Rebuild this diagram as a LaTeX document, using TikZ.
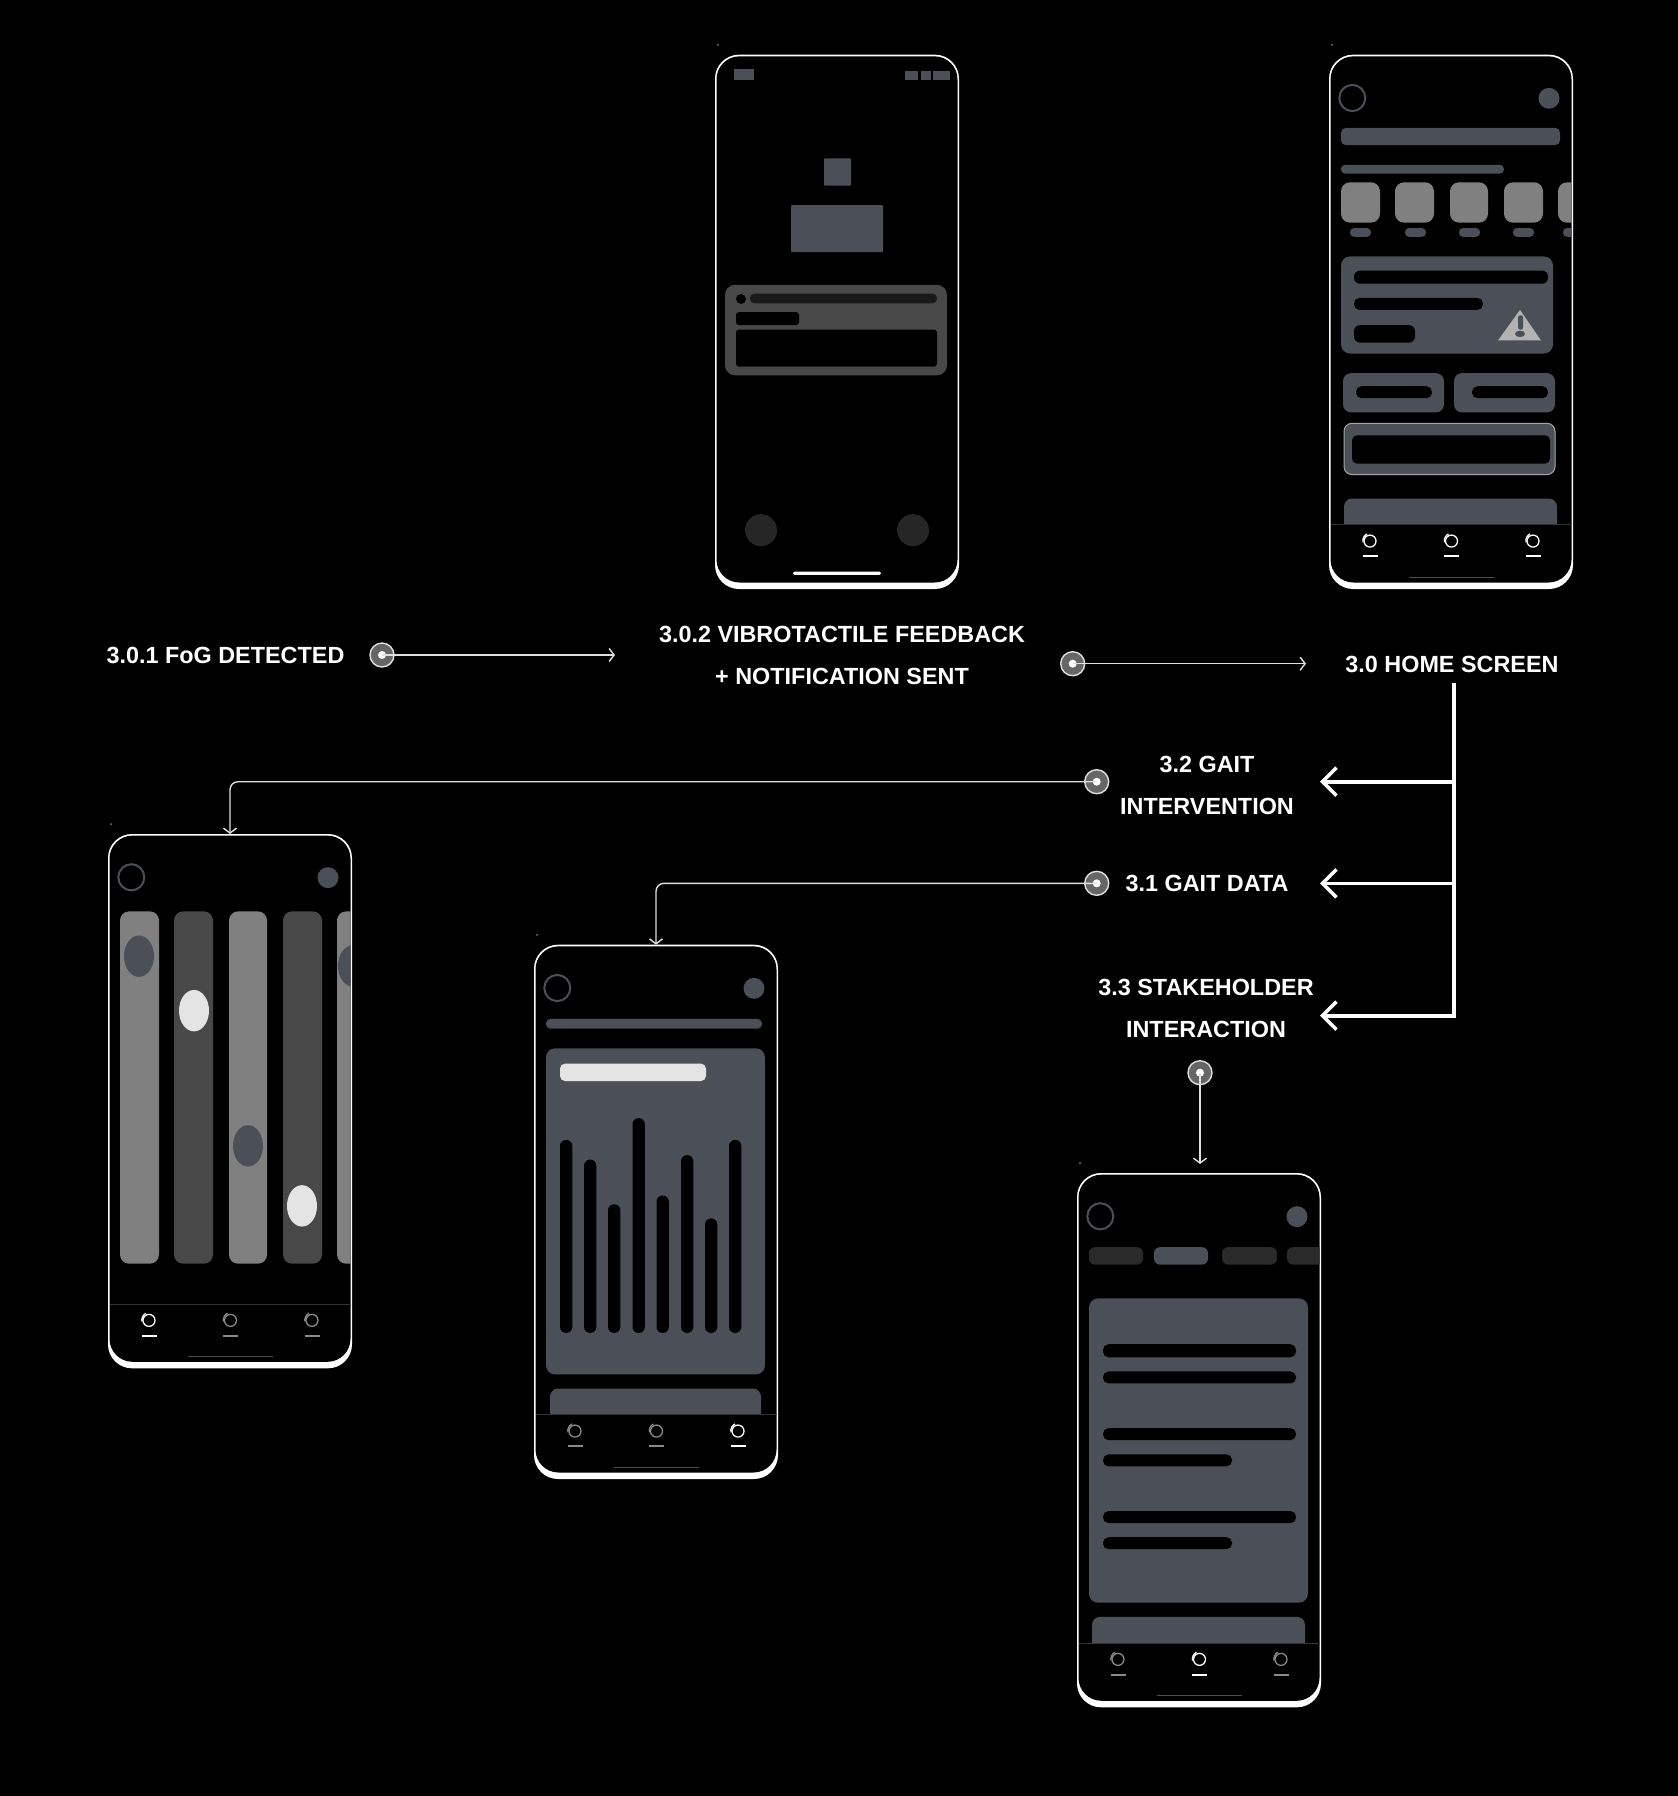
\documentclass[tikz,border=0pt]{standalone}
\usepackage{fontspec}
\setmainfont{Liberation Sans}
\usetikzlibrary{arrows.meta}
\definecolor{uigray}{HTML}{4B5058}
\definecolor{uimid}{HTML}{808080}
\definecolor{uidark}{HTML}{484848}
\definecolor{uidim}{HTML}{2A2A2A}
\definecolor{uilight}{HTML}{E4E4E4}
\definecolor{navoff}{HTML}{8A8A8A}
\definecolor{linkgray}{HTML}{E0E0E0}
\newlength{\pxunit}
\setlength{\pxunit}{0.01cm}
\tikzset{
  phone/.style={rectangle,fill=white,draw=none,inner sep=0pt,outer sep=0pt,anchor=north west,minimum width=244\pxunit,minimum height=534.3\pxunit,rounded corners=24\pxunit},
  screen/.style={yscale=1.0905},
  lbl/.style={text=white,font=\bfseries\fontsize{6.65}{11.8}\selectfont,align=center,inner sep=0pt},
  dotmark/.style={circle,fill=white!40!black,draw=linkgray,line width=1.4\pxunit,minimum size=24\pxunit,inner sep=0pt},
  thinlink/.style={draw=linkgray,line width=1.4\pxunit,-{Straight Barb[length=1.42pt,width=3.7pt,line width=0.4pt]},rounded corners=8\pxunit},
  thicklink/.style={draw=white,line width=3.6\pxunit,-{Straight Barb[length=3.98pt,width=7.97pt,line width=1pt]}},
}
% outer body, black face, small mark above the corner
\newcommand{\phoneframe}[1]{
  \node[phone] (#1) at (0,0) {};
  \fill[black,rounded corners=23\pxunit] (1.5,1.5) rectangle (242.5,484);
  \fill[uimid] (3,-9) circle (1);
}
% top row, nav bar and home line of the app screens
\newcommand{\apptop}{
  \draw[uigray,line width=2\pxunit] (23.3,39.7) ellipse (13 and 12);
  \fill[uigray] (220,40) ellipse (10.5 and 9.6);
}
\newcommand{\navrow}[3]{
  \draw[white!20!black,line width=0.7\pxunit] (1.5,431) -- (242.5,431);
  \foreach \x/\c in {41/#1,122.5/#2,204/#3} {
    \draw[\c,line width=1.3\pxunit] (\x,446) ellipse (6 and 5.5);
    \draw[\c,line width=1.3\pxunit] (\x,446) ++(-115:7.2) arc (-115:-190:7.2);
    \draw[\c,line width=2\pxunit] (\x-7.5,460) -- (\x+7.5,460);
  }
  \draw[white!30!black,line width=1\pxunit] (80,479) -- (165,479);
}
\begin{document}
\begin{tikzpicture}[x=1\pxunit,y=-1\pxunit]
\fill[black] (0,0) rectangle (1678,1796);
\useasboundingbox (0,0) rectangle (1678,1796);
% notification screen
\begin{scope}[shift={(715,54.7)},screen]
\phoneframe{phonenotify}
\fill[uigray] (19,13) rectangle (39,23);
\foreach \a/\b in {190/203,206/216,218/235} {
  \fill[uigray] (\a,15) rectangle (\b,23);
}
\fill[uigray,rounded corners=1\pxunit] (109,95) rectangle (136,120);
\fill[uigray,rounded corners=1\pxunit] (76,138) rectangle (168,181);
\fill[uidark,rounded corners=10\pxunit] (10,211) rectangle (232,294);
\fill[black] (26,224) ellipse (5 and 4.6);
\fill[black!90!white,rounded corners=4.5\pxunit] (35,219) rectangle (222,228);
\fill[black,rounded corners=3\pxunit] (21,236) rectangle (84,248);
\fill[black,rounded corners=3\pxunit] (21,252) rectangle (222,286);
\foreach \x in {46,198} {
  \fill[black!85!white] (\x,436) ellipse (16 and 14.7);
}
\fill[white,rounded corners=1.5\pxunit] (78,474) rectangle (166,477);
\end{scope}
% home screen
\begin{scope}[shift={(1329,54.7)},screen]
\phoneframe{phonehome}
\apptop
\begin{scope}
\clip (1.5,1.5) rectangle (242.5,431);
\fill[uigray,rounded corners=5\pxunit] (12,67) rectangle (231,83);
\fill[uigray,rounded corners=4\pxunit] (12,101) rectangle (175,109);
\foreach \a/\b/\c/\d in {12/51/21/42,66/105/76/97,121/159/130/151,175/214/184/205,229/268/234/255} {
  \fill[uimid,rounded corners=9\pxunit] (\a,117) rectangle (\b,154);
  \fill[uigray,rounded corners=4\pxunit] (\c,159) rectangle (\d,167);
}
\fill[uigray,rounded corners=9\pxunit] (12,185) rectangle (224,274);
\fill[black,rounded corners=6\pxunit] (25,198) rectangle (219,210);
\fill[black,rounded corners=5.5\pxunit] (25,223) rectangle (154,234);
\fill[black,rounded corners=6\pxunit] (25,248) rectangle (86,264);
\fill[white!70!black] (191,234) -- (212,262) -- (169,262) -- cycle;
\fill[uigray,rounded corners=2\pxunit] (189,239) rectangle (194,252);
\fill[uigray] (191,256) ellipse (5 and 3);
\foreach \a/\b/\c/\d in {14/115/27/103,125/226/143/219} {
  \fill[uigray,rounded corners=8\pxunit] (\a,292) rectangle (\b,328);
  \fill[black,rounded corners=5.5\pxunit] (\c,304) rectangle (\d,315);
}
\filldraw[fill=uigray,draw=white!65!black,line width=1\pxunit,rounded corners=8\pxunit] (15,338) rectangle (226,385);
\fill[black,rounded corners=5\pxunit] (23,349) rectangle (221,375);
\fill[uigray,rounded corners=8\pxunit] (15,407) rectangle (228,450);
\end{scope}
\navrow{white}{white}{white}
\end{scope}
% intervention screen
\begin{scope}[shift={(108,834)},screen]
\phoneframe{phonegaitint}
\apptop
\begin{scope}
\clip (1.5,1.5) rectangle (242.5,431);
\foreach \a/\b/\c in {12/51/uimid,66/105/uidark,121/159/uimid,175/214/uidark,229/268/uimid} {
  \fill[\c,rounded corners=9\pxunit] (\a,71) rectangle (\b,394);
}
\foreach \x/\y/\c in {31/112/uigray,86/162/uilight,140/286/uigray,194/341/uilight,245/121/uigray} {
  \fill[\c] (\x,\y) ellipse (15 and 19);
}
\end{scope}
\navrow{white}{navoff}{navoff}
\end{scope}
% gait data screen
\begin{scope}[shift={(534,944.7)},screen]
\phoneframe{phonegaitdata}
\apptop
\begin{scope}
\clip (1.5,1.5) rectangle (242.5,431);
\fill[uigray,rounded corners=4.5\pxunit] (12,68) rectangle (228,77);
\fill[uigray,rounded corners=9\pxunit] (12,95) rectangle (231,394);
\fill[uilight,rounded corners=5\pxunit] (26,109) rectangle (172,125);
\foreach \a/\t in {26/179,50/197,74/238,98.5/159,122.5/230,147/193,171/251,195/179} {
  \fill[black,rounded corners=6\pxunit] (\a,\t) rectangle (\a+12.3,356);
}
\fill[uigray,rounded corners=8\pxunit] (16,407) rectangle (227,450);
\end{scope}
\navrow{navoff}{navoff}{white}
\end{scope}
% stakeholder screen
\begin{scope}[shift={(1077,1173)},screen]
\phoneframe{phonestake}
\apptop
\begin{scope}
\clip (1.5,1.5) rectangle (242.5,431);
\foreach \a/\b/\c in {12/66/uidim,77/131/uigray,145/200/uidim,210/264/uidim} {
  \fill[\c,rounded corners=6\pxunit] (\a,68) rectangle (\b,84);
}
\fill[uigray,rounded corners=9\pxunit] (12,115) rectangle (231,394);
\foreach \t/\b/\r in {157/169/219,182/193/219,234/245/219,258/269/155,310/321/219,334/345/155} {
  \fill[black,rounded corners=5.5\pxunit] (26,\t) rectangle (\r,\b);
}
\fill[uigray,rounded corners=8\pxunit] (15,407) rectangle (228,450);
\end{scope}
\navrow{navoff}{white}{navoff}
\end{scope}
% labels
\node[lbl] (fogtext) at (225.5,655) {3.0.1 FoG DETECTED};
\node[lbl] (vibrotext) at (842,655.5) {3.0.2 VIBROTACTILE FEEDBACK\\+ NOTIFICATION SENT};
\node[lbl] (hometext) at (1452,664) {3.0 HOME SCREEN};
\node[lbl] (inttext) at (1207,785.5) {3.2 GAIT\\INTERVENTION};
\node[lbl] (datatext) at (1207,883) {3.1 GAIT DATA};
\node[lbl] (staketext) at (1206,1008.5) {3.3 STAKEHOLDER\\INTERACTION};
% marks
\node[dotmark] (fogdot) at (382,655) {};
\node[dotmark] (vibrodot) at (1072.7,663.7) {};
\node[dotmark] (intdot) at (1096.7,781.7) {};
\node[dotmark] (datadot) at (1096.7,883.3) {};
\node[dotmark] (stakedot) at (1200,1072.7) {};
\foreach \n in {fogdot,vibrodot,intdot,datadot,stakedot} {
  \fill[white] (\n.center) circle (4);
}
% connectors
\coordinate (fogend) at (615,655);
\coordinate (vibroend) at (1306,663.7);
\coordinate (stakeend) at (1200,1164);
\coordinate (branchtop) at (1453.7,685);
\coordinate (branchint) at (1320,781.7);
\coordinate (branchdata) at (1320,883.3);
\coordinate (branchstake) at (1320,1015.7);
\draw[thinlink] (fogdot.center) -- (fogend);
\draw[thinlink] (vibrodot.center) -- (vibroend);
\draw[thinlink] (intdot.center) -| (phonegaitint.north);
\draw[thinlink] (datadot.center) -| (phonegaitdata.north);
\draw[thinlink] (stakedot.center) -- (stakeend);
\draw[white,line width=3.6\pxunit,line cap=rect] (branchtop) -- (branchstake -| branchtop);
\draw[thicklink] (branchtop |- branchint) -- (branchint);
\draw[thicklink] (branchtop |- branchdata) -- (branchdata);
\draw[thicklink] (branchtop |- branchstake) -- (branchstake);
\end{tikzpicture}
\end{document}
